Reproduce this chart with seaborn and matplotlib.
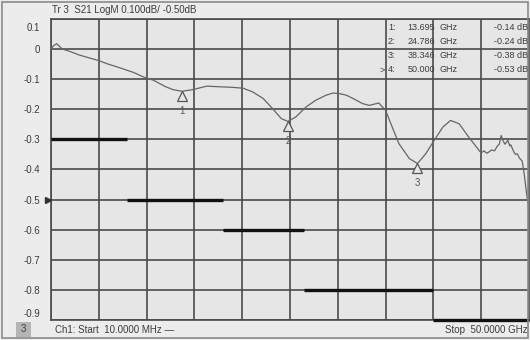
import matplotlib
matplotlib.use("Agg")
import matplotlib.pyplot as plt
import matplotlib.transforms as mtransforms
from matplotlib.patches import Rectangle
from matplotlib import font_manager
import seaborn as sns
import pandas as pd

# S21 magnitude trace (GHz, dB)
freq_ghz = [0.01, 0.3, 0.6, 1.2, 2.0, 3.0, 4.1, 5.0, 6.0, 7.0, 8.6, 10.0, 10.7,
            12.0, 12.8, 13.695, 14.8, 16.3, 17.5, 19.0, 20.1, 21.1, 22.2, 23.2,
            24.1, 24.786, 25.6, 26.7, 27.7, 28.8, 29.5, 30.2, 30.9, 31.6, 32.6,
            33.3, 34.3, 35.0, 35.7, 36.4, 37.5, 38.346, 39.2, 40.1, 41.0, 41.8,
            42.7, 43.7, 44.8, 45.0, 45.3, 45.6, 45.8, 46.1, 46.4, 46.7, 46.9,
            47.1, 47.3, 47.5, 47.8, 48.0, 48.1, 48.4, 48.6, 48.8, 49.0, 49.3,
            49.5, 49.8, 50.0]
s21_db = [0.0, 0.012, 0.018, 0.0, -0.008, -0.02, -0.03, -0.038, -0.05, -0.06,
          -0.077, -0.097, -0.103, -0.125, -0.135, -0.14, -0.135, -0.123, -0.125,
          -0.127, -0.13, -0.142, -0.164, -0.198, -0.231, -0.24, -0.226, -0.192,
          -0.17, -0.153, -0.146, -0.148, -0.153, -0.164, -0.181, -0.187, -0.179,
          -0.203, -0.259, -0.314, -0.364, -0.38, -0.348, -0.303, -0.259, -0.237,
          -0.248, -0.292, -0.337, -0.345, -0.338, -0.346, -0.342, -0.335, -0.338,
          -0.322, -0.316, -0.287, -0.305, -0.316, -0.303, -0.322, -0.318, -0.34,
          -0.35, -0.348, -0.362, -0.372, -0.414, -0.49, -0.53]

# Limit mask segments
mask_start = [0.01, 8.0, 18.0, 26.5, 40.0]
mask_stop = [8.0, 18.0, 26.5, 40.0, 50.0]
mask_level = [-0.3, -0.5, -0.6, -0.8, -0.9]

# Markers
marker_id = ["1", "2", "3", "4"]
marker_freq = [13.695, 24.786, 38.346, 50.000]
marker_db = [-0.14, -0.24, -0.38, -0.53]
marker_freq_txt = ["13.695", "24.786", "38.346", "50.000"]

y_ticks = [0.1, 0.0, -0.1, -0.2, -0.3, -0.4, -0.5, -0.6, -0.7, -0.8, -0.9]
y_tick_labels = ["0.1", "0", "-0.1", "-0.2", "-0.3", "-0.4", "-0.5", "-0.6",
                 "-0.7", "-0.8", "-0.9"]

sns.set_style("white")
names = {f.name for f in font_manager.fontManager.ttflist}
narrow = "Liberation Sans Narrow" if "Liberation Sans Narrow" in names else "Liberation Sans"
plt.rcParams["font.family"] = [narrow, "DejaVu Sans"]

W, H = 530, 340
fig = plt.figure(figsize=(W / 100, H / 100), dpi=100)
fig.patch.set_facecolor("#ececec")
ax = fig.add_axes([51 / W, 20 / H, 478 / W, 301 / H])
ax.set_facecolor("#e6e6e6")

grid_c = "#4a4a4a"
txt_c = "#3c3c3c"

df = pd.DataFrame({"freq": freq_ghz, "db": s21_db})
sns.lineplot(data=df, x="freq", y="db", ax=ax, color="#666666", lw=0.9,
             estimator=None, sort=False, zorder=4)

for x0, x1, lvl in zip(mask_start, mask_stop, mask_level):
    ax.hlines(lvl, x0, x1, color="#111111", lw=2.4, zorder=5, clip_on=False)

ax.set_xlim(0.01, 50.0)
ax.set_ylim(-0.9, 0.1)
ax.set_xticks([0.01 + 5 * i for i in range(11)])
ax.set_xticklabels([])
ax.set_yticks(y_ticks)
ax.set_yticklabels(y_tick_labels, fontsize=7, color=txt_c)
ax.tick_params(length=0, pad=8)
ax.set_xlabel("")
ax.set_ylabel("")
ax.grid(True, color=grid_c, lw=1.2)
for s in ax.spines.values():
    s.set_color(grid_c)
    s.set_linewidth(1.2)

for lab in ax.get_yticklabels():
    t = lab.get_text()
    if t == "0.1":
        lab.set_transform(lab.get_transform() + mtransforms.ScaledTranslation(0, -6 / 72, fig.dpi_scale_trans))
    elif t == "-0.9":
        lab.set_transform(lab.get_transform() + mtransforms.ScaledTranslation(0, 5 / 72, fig.dpi_scale_trans))

# Reference level arrow
ref_tr = mtransforms.offset_copy(ax.transData, fig=fig, x=-3, y=0, units="dots")
ax.plot([0.01], [-0.5], marker=">", ms=4, color="#333333", transform=ref_tr,
        clip_on=False, zorder=6)

# Marker triangles with numbers below
tri_tr = mtransforms.offset_copy(ax.transData, fig=fig, x=0, y=-5, units="dots")
num_tr = mtransforms.offset_copy(ax.transData, fig=fig, x=0, y=-20, units="dots")
for mid, mf, md in zip(marker_id[:3], marker_freq[:3], marker_db[:3]):
    ax.plot([mf], [md], marker="^", ms=7, mfc="#e6e6e6", mec="#555555", mew=0.9,
            transform=tri_tr, zorder=6)
    ax.text(mf, md, mid, transform=num_tr, ha="center", va="center",
            fontsize=7, color="#555555")

# Marker readout table
for i, (mid, ftxt, md) in enumerate(zip(marker_id, marker_freq_txt, marker_db)):
    y = 1 - (28 + 14 * i) / H
    if i == 3:
        fig.text(382 / W, y, ">", fontsize=6.5, color=txt_c, ha="center", va="center")
    fig.text(388 / W, y, mid + ":", fontsize=6.5, color=txt_c, va="center")
    fig.text(435 / W, y, ftxt, fontsize=6.5, color=txt_c, ha="right", va="center")
    fig.text(440 / W, y, "GHz", fontsize=6.5, color=txt_c, va="center")
    fig.text(528 / W, y, f"{md:.2f} dB", fontsize=6.5, color=txt_c, ha="right", va="center")

# Header and footer annotations
fig.text(52 / W, 1 - 10 / H, "Tr 3  S21 LogM 0.100dB/ -0.50dB", fontsize=7,
         color=txt_c, va="center")
fig.patches.append(Rectangle((16 / W, 3 / H), 15 / W, 15 / H, transform=fig.transFigure,
                             fc="#b4b4b4", ec="none"))
fig.text(23.5 / W, 10.5 / H, "3", fontsize=7, color=txt_c, ha="center", va="center")
fig.text(55 / W, 10 / H, "Ch1: Start  10.0000 MHz \u2014", fontsize=7, color=txt_c, va="center")
fig.text(528 / W, 10 / H, "Stop  50.0000 GHz", fontsize=7, color=txt_c, ha="right", va="center")

fig.patches.append(Rectangle((2 / W, 2 / H), 526 / W, 336 / H, transform=fig.transFigure,
                             fill=False, ec="#8a8a8a", lw=1.2))

fig.savefig("out.png", dpi=100, facecolor=fig.get_facecolor())
